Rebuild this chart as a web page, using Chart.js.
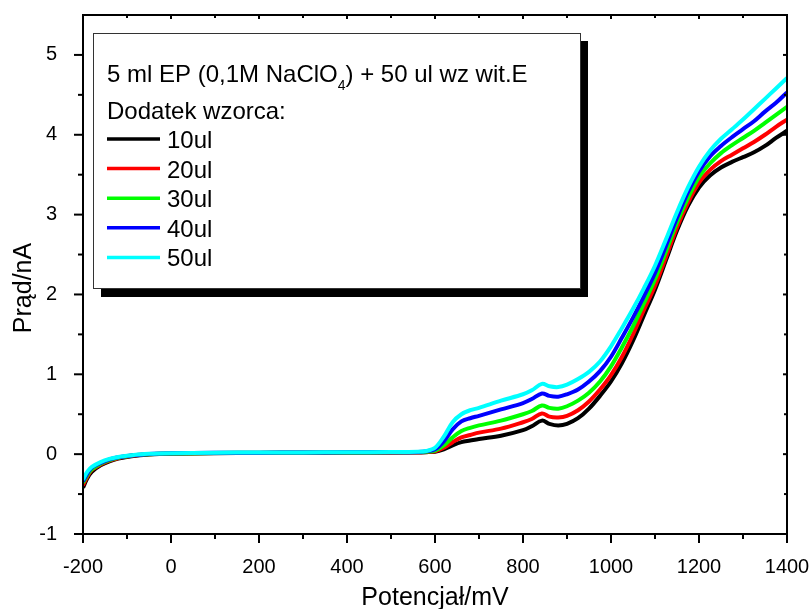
<!DOCTYPE html>
<html>
<head>
<meta charset="utf-8">
<script src="https://cdn.jsdelivr.net/npm/chart.js@4.4.1/dist/chart.umd.min.js"></script>
<style>
  html, body { margin: 0; padding: 0; background: #fff; }
  #wrap { width: 812px; height: 609px; }
</style>
</head>
<body>
<div id="wrap"><canvas id="cv" width="812" height="609"></canvas></div>
<script>
// potencjał (mV)
const potentials = [-200,-190,-180,-160,-140,-120,-100,-80,-50,0,100,200,300,400,500,560,580,600,620,640,660,680,700,750,800,820,843,860,880,900,925,950,975,1000,1025,1050,1075,1100,1125,1150,1175,1200,1225,1250,1275,1300,1325,1350,1375,1400];

// prąd (nA) dla kolejnych dodatków wzorca
const i10ul = [-0.42,-0.30,-0.22,-0.14,-0.09,-0.055,-0.035,-0.02,-0.005,0.005,0.012,0.015,0.017,0.018,0.02,0.022,0.025,0.03,0.06,0.11,0.15,0.17,0.19,0.23,0.30,0.35,0.42,0.38,0.36,0.38,0.45,0.57,0.73,0.91,1.14,1.42,1.74,2.06,2.43,2.80,3.11,3.34,3.49,3.59,3.66,3.72,3.78,3.86,3.96,4.05];
const i20ul = [-0.39,-0.28,-0.20,-0.13,-0.08,-0.05,-0.03,-0.015,-0.002,0.007,0.014,0.016,0.018,0.02,0.022,0.024,0.028,0.035,0.08,0.15,0.21,0.24,0.27,0.32,0.40,0.44,0.51,0.47,0.46,0.48,0.55,0.66,0.81,0.99,1.22,1.50,1.81,2.11,2.47,2.84,3.15,3.40,3.56,3.67,3.75,3.83,3.91,4.00,4.10,4.19];
const i30ul = [-0.36,-0.26,-0.19,-0.12,-0.075,-0.045,-0.027,-0.012,0.0,0.009,0.015,0.017,0.019,0.021,0.023,0.026,0.03,0.045,0.11,0.21,0.29,0.33,0.36,0.42,0.50,0.54,0.61,0.58,0.57,0.60,0.67,0.77,0.91,1.10,1.34,1.60,1.89,2.19,2.54,2.90,3.21,3.47,3.64,3.77,3.87,3.96,4.05,4.15,4.25,4.35];
const i40ul = [-0.34,-0.24,-0.17,-0.11,-0.065,-0.04,-0.023,-0.01,0.003,0.011,0.017,0.019,0.021,0.023,0.025,0.028,0.035,0.06,0.16,0.31,0.41,0.45,0.48,0.56,0.64,0.69,0.76,0.73,0.72,0.75,0.81,0.91,1.04,1.22,1.46,1.71,1.98,2.27,2.61,2.96,3.28,3.54,3.73,3.86,3.97,4.07,4.17,4.29,4.40,4.53];
const i50ul = [-0.32,-0.22,-0.16,-0.10,-0.06,-0.035,-0.02,-0.008,0.005,0.012,0.018,0.02,0.022,0.024,0.026,0.03,0.04,0.08,0.22,0.40,0.50,0.55,0.58,0.67,0.75,0.80,0.88,0.85,0.84,0.87,0.94,1.03,1.16,1.35,1.58,1.82,2.08,2.36,2.69,3.03,3.34,3.60,3.80,3.95,4.07,4.19,4.32,4.45,4.58,4.71];

const seriesLabels = ['10ul', '20ul', '30ul', '40ul', '50ul'];
const xTicks = [-200, 0, 200, 400, 600, 800, 1000, 1200, 1400];
const yTicks = [-1, 0, 1, 2, 3, 4, 5];
const xMinor = [-100, 100, 300, 500, 700, 900, 1100, 1300];
const yMinor = [-0.5, 0.5, 1.5, 2.5, 3.5, 4.5];

const FONT = '"Liberation Sans", Arial, sans-serif';
const colors = ['#000000', '#ff0000', '#00ff00', '#0000ff', '#00ffff'];
const allSeries = [i10ul, i20ul, i30ul, i40ul, i50ul];

const toPoints = (ys) => potentials.map((x, i) => ({ x, y: ys[i] }));

// ramka, ticki, tytuły osi i legenda w stylu Origin
const originDecor = {
  id: 'originDecor',
  afterDraw(chart) {
    const { ctx, chartArea: a } = chart;
    const sx = chart.scales.x, sy = chart.scales.y;
    ctx.save();
    ctx.strokeStyle = '#000';
    ctx.lineWidth = 2;
    ctx.strokeRect(a.left, a.top, a.right - a.left, a.bottom - a.top);

    const tick = (x1, y1, x2, y2) => {
      ctx.beginPath(); ctx.moveTo(x1, y1); ctx.lineTo(x2, y2); ctx.stroke();
    };
    xTicks.forEach(v => {
      const px = sx.getPixelForValue(v);
      tick(px, a.bottom, px, a.bottom + 9);
      tick(px, a.top, px, a.top + 4);
    });
    xMinor.forEach(v => {
      const px = sx.getPixelForValue(v);
      tick(px, a.bottom, px, a.bottom + 5);
      tick(px, a.top, px, a.top + 3);
    });
    yTicks.forEach(v => {
      const py = sy.getPixelForValue(v);
      tick(a.left - 9, py, a.left, py);
      tick(a.right - 4, py, a.right, py);
    });
    yMinor.forEach(v => {
      const py = sy.getPixelForValue(v);
      tick(a.left - 5, py, a.left, py);
      tick(a.right - 3, py, a.right, py);
    });

    // tytuły osi
    ctx.fillStyle = '#000';
    ctx.font = '25px ' + FONT;
    ctx.textAlign = 'center';
    ctx.textBaseline = 'alphabetic';
    ctx.fillText('Potencjał/mV', (a.left + a.right) / 2, 605);
    ctx.save();
    ctx.translate(31, 288);
    ctx.rotate(-Math.PI / 2);
    ctx.fillText('Prąd/nA', 0, 0);
    ctx.restore();

    // legenda z cieniem
    const bx = 93, by = 33, bw = 487, bh = 255;
    ctx.fillStyle = '#000';
    ctx.fillRect(bx + 8, by + 8, bw, bh + 1);
    ctx.fillStyle = '#fff';
    ctx.fillRect(bx, by, bw, bh);
    ctx.strokeStyle = '#333';
    ctx.lineWidth = 1;
    ctx.strokeRect(bx + 0.5, by + 0.5, bw, bh);

    ctx.fillStyle = '#000';
    ctx.textAlign = 'left';
    ctx.font = '24px ' + FONT;
    let tx = 107;
    const part1 = '5 ml EP (0,1M NaClO';
    ctx.fillText(part1, tx, 82);
    tx += ctx.measureText(part1).width;
    ctx.font = '14px ' + FONT;
    ctx.fillText('4', tx, 90);
    tx += ctx.measureText('4').width;
    ctx.font = '24px ' + FONT;
    ctx.fillText(') + 50 ul wz wit.E', tx, 82);
    ctx.fillText('Dodatek wzorca:', 107, 119);

    seriesLabels.forEach((lab, i) => {
      const ly = 139 + i * 29.6;
      ctx.strokeStyle = colors[i];
      ctx.lineWidth = 3.5;
      tick(107, ly, 160, ly);
      ctx.fillStyle = '#000';
      ctx.fillText(lab, 167, ly + 9);
    });
    ctx.restore();
  }
};

new Chart(document.getElementById('cv'), {
  type: 'line',
  data: {
    datasets: allSeries.map((ys, i) => ({
      label: seriesLabels[i],
      data: toPoints(ys),
      borderColor: colors[i],
      backgroundColor: colors[i],
      borderWidth: 4,
      pointRadius: 0,
      fill: false,
      tension: 0.35,
      order: allSeries.length - i
    }))
  },
  options: {
    responsive: false,
    animation: false,
    devicePixelRatio: 1,
    layout: { padding: { left: 0, right: 25, top: 15, bottom: 0 } },
    plugins: { legend: { display: false }, tooltip: { enabled: false } },
    scales: {
      x: {
        type: 'linear',
        min: -200,
        max: 1400,
        afterBuildTicks: (s) => { s.ticks = xTicks.map(v => ({ value: v })); },
        afterFit: (s) => { s.height = 75; s.paddingLeft = 0; s.paddingRight = 0; },
        ticks: {
          color: '#000',
          font: { family: FONT, size: 20 },
          padding: 13,
          maxRotation: 0,
          autoSkip: false,
          callback: (v) => String(v)
        },
        grid: { display: false },
        border: { display: false }
      },
      y: {
        type: 'linear',
        min: -1,
        max: 5.5,
        afterBuildTicks: (s) => { s.ticks = yTicks.map(v => ({ value: v })); },
        afterFit: (s) => { s.width = 83; s.paddingTop = 0; s.paddingBottom = 0; },
        ticks: {
          color: '#000',
          font: { family: FONT, size: 20 },
          padding: 18,
          autoSkip: false,
          callback: (v) => String(v)
        },
        grid: { display: false },
        border: { display: false }
      }
    }
  },
  plugins: [originDecor]
});
</script>
</body>
</html>
